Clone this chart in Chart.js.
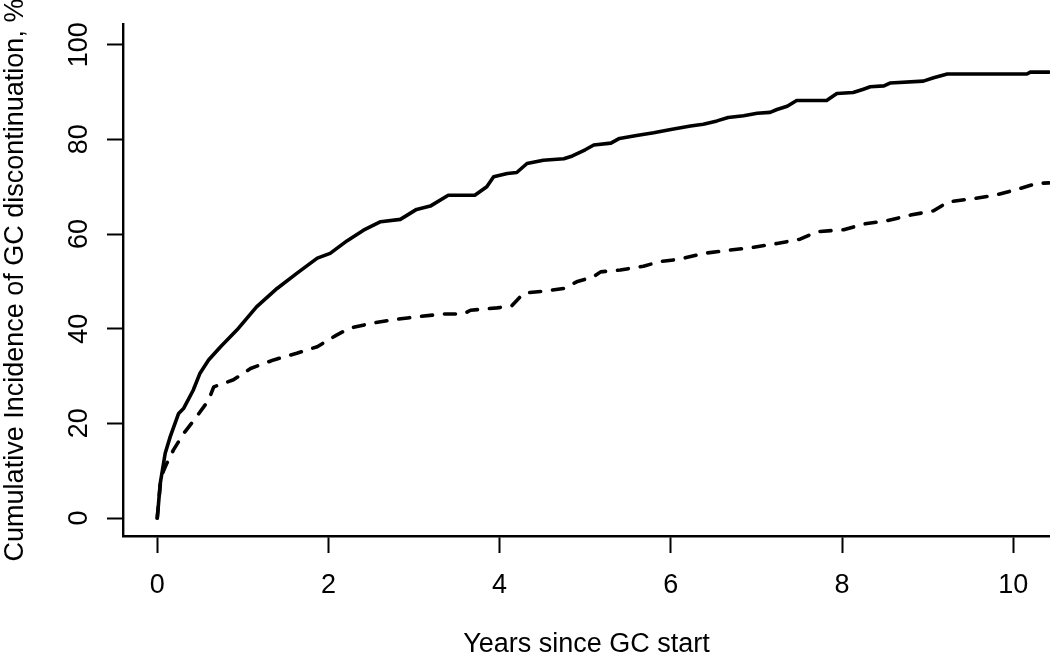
<!DOCTYPE html>
<html>
<head>
<meta charset="utf-8">
<title>Cumulative incidence of GC discontinuation</title>
<script src="https://cdn.jsdelivr.net/npm/chart.js@4.4.1/dist/chart.umd.min.js"></script>
<style>
  html, body { margin: 0; padding: 0; background: #fff; }
  #wrap { width: 1050px; height: 659px; }
</style>
</head>
<body>
<div id="wrap"><canvas id="myChart" width="1050" height="659"></canvas></div>
<script>
// solid curve
var yearsA = [0, 0.01, 0.035, 0.093, 0.152, 0.25, 0.31, 0.42, 0.5, 0.6, 0.74, 0.93, 1.16, 1.4, 1.63, 1.87, 2.02, 2.22, 2.41, 2.61,
  2.84, 3.03, 3.19, 3.4, 3.71, 3.85, 3.93, 4.09, 4.2, 4.32, 4.51, 4.75, 4.85, 5.0, 5.1, 5.3, 5.4, 5.6, 5.8, 6.0,
  6.23, 6.38, 6.54, 6.67, 6.85, 7.01, 7.16, 7.24, 7.36, 7.47, 7.82, 7.94, 8.13, 8.25, 8.33, 8.49, 8.56, 8.95, 9.07, 9.23,
  10.16, 10.2, 10.42];
var cumIncA = [0, 2, 7.3, 13.7, 17.2, 22.1, 23.2, 27, 30.6, 33.4, 36.2, 39.7, 44.6, 48.5, 51.7, 54.9, 55.9, 58.6, 60.8, 62.6,
  63.1, 65.2, 65.9, 68.2, 68.2, 70.0, 72.1, 72.8, 73.0, 74.9, 75.6, 75.9, 76.5, 77.8, 78.8, 79.2, 80.2, 80.8, 81.4, 82.1,
  82.8, 83.2, 83.9, 84.6, 85.0, 85.5, 85.7, 86.3, 87.0, 88.2, 88.2, 89.7, 89.9, 90.6, 91.1, 91.3, 91.9, 92.3, 93.0, 93.8,
  93.8, 94.2, 94.2];

// dashed curve
var yearsB = [0, 0.01, 0.035, 0.07, 0.113, 0.19, 0.31, 0.46, 0.6, 0.66, 0.89, 1.09, 1.36, 1.63, 1.87, 2.1, 2.25, 2.49, 2.8, 3.03,
  3.34, 3.58, 3.66, 3.97, 4.14, 4.28, 4.55, 4.75, 4.9, 5.1, 5.18, 5.41, 5.68, 5.88, 6.11, 6.38, 6.69, 6.97, 7.24, 7.51,
  7.71, 8.02, 8.25, 8.52, 8.8, 9.07, 9.24, 9.54, 9.79, 10.04, 10.28, 10.42];
var cumIncB = [0, 2, 7, 9.8, 11.6, 14.4, 17.9, 21.4, 24.9, 27.7, 29.2, 31.6, 33.4, 34.8, 36.2, 38.7, 40.1, 41.1, 42.0, 42.5,
  43.1, 43.1, 43.9, 44.4, 44.8, 47.5, 48.0, 48.5, 49.9, 51.0, 52.0, 52.4, 53.2, 54.2, 54.7, 55.9, 56.6, 57.2, 58.0, 58.9,
  60.5, 60.9, 62.1, 62.8, 64.0, 64.9, 66.8, 67.5, 68.2, 69.4, 70.7, 70.8];

var xTicks = [0, 2, 4, 6, 8, 10];
var yTicks = [0, 20, 40, 60, 80, 100];
var xTitle = "Years since GC start";
var yTitle = "Cumulative Incidence of GC discontinuation, %";

function toPoints(xs, ys) {
  return xs.map(function (x, i) { return { x: x, y: ys[i] }; });
}

var FONT = '27px "Liberation Sans", Arial, Helvetica, sans-serif';

// R-style tick labels and axis titles
var rLabels = {
  id: 'rLabels',
  afterDraw: function (chart) {
    var ctx = chart.ctx;
    var xs = chart.scales.x, ys = chart.scales.y;
    var area = chart.chartArea;
    ctx.save();
    ctx.fillStyle = '#000';
    ctx.font = FONT;
    ctx.textAlign = 'center';
    ctx.textBaseline = 'middle';
    xTicks.forEach(function (t) {
      ctx.fillText(String(t), xs.getPixelForValue(t), 586);
    });
    ctx.fillText(xTitle, (area.left + area.right) / 2, 645);
    yTicks.forEach(function (t) {
      ctx.save();
      ctx.translate(80, ys.getPixelForValue(t));
      ctx.rotate(-Math.PI / 2);
      ctx.fillText(String(t), 0, 0);
      ctx.restore();
    });
    ctx.translate(16, (area.top + area.bottom) / 2);
    ctx.rotate(-Math.PI / 2);
    ctx.fillText(yTitle, 0, 0);
    ctx.restore();
  }
};

window.onload = function () {
  var ctx = document.getElementById("myChart").getContext("2d");
  var myChart = new Chart(ctx, {
    type: 'line',
    data: {
      datasets: [{
        label: 'solid',
        data: toPoints(yearsA, cumIncA),
        borderColor: '#000',
        borderWidth: 3.6,
        pointRadius: 0,
        tension: 0,
        borderCapStyle: 'round',
        borderJoinStyle: 'round'
      }, {
        label: 'dashed',
        data: toPoints(yearsB, cumIncB),
        borderColor: '#000',
        borderWidth: 3.6,
        borderDash: [11, 12],
        pointRadius: 0,
        tension: 0,
        borderCapStyle: 'round',
        borderJoinStyle: 'round'
      }]
    },
    options: {
      responsive: false,
      devicePixelRatio: 1,
      animation: false,
      layout: { padding: { top: 24, left: 0, right: 0, bottom: 0 } },
      plugins: { legend: { display: false }, tooltip: { enabled: false } },
      scales: {
        x: {
          type: 'linear',
          min: -0.4,
          max: 10.43,
          afterFit: function (s) { s.height = 123; },
          ticks: { stepSize: 2, includeBounds: false, display: false },
          grid: { drawOnChartArea: false, drawTicks: true, tickLength: 17, tickWidth: 2, tickColor: '#000', color: '#000' },
          border: { display: true, color: '#000', width: 2.4 }
        },
        y: {
          type: 'linear',
          min: -3.8,
          max: 104.37,
          afterFit: function (s) { s.width = 123; },
          ticks: { stepSize: 20, includeBounds: false, display: false },
          grid: { drawOnChartArea: false, drawTicks: true, tickLength: 16, tickWidth: 2, tickColor: '#000', color: '#000' },
          border: { display: true, color: '#000', width: 2.4 }
        }
      }
    },
    plugins: [rLabels]
  });
};
</script>
</body>
</html>
